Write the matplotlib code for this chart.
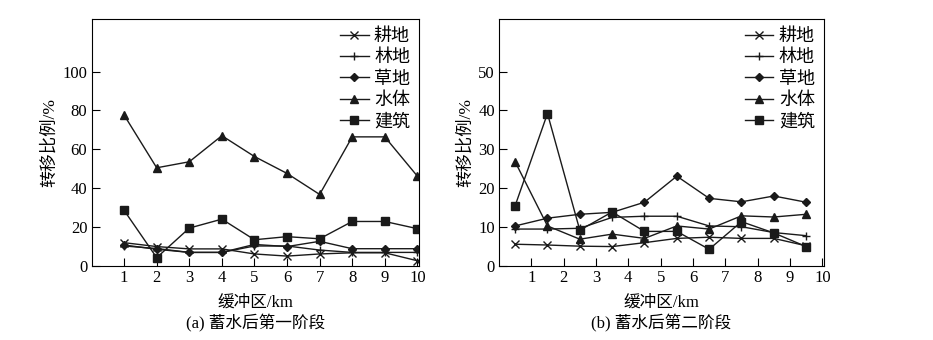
import numpy as np
import matplotlib.pyplot as plt

plt.rcParams['font.family'] = ['Liberation Serif', 'Noto Sans CJK SC']
plt.rcParams['axes.unicode_minus'] = False

# 图例名称
names = ['耕地', '林地', '草地', '水体', '建筑']
markers = ['x', '+', 'D', '^', 's']
msizes = [6, 6, 4.5, 6, 6]

# (a) 蓄水后第一阶段
xa = [1, 2, 3, 4, 5, 6, 7, 8, 9, 10]
gengdi_a = [12.0, 10.0, 8.8, 8.8, 6.2, 5.1, 6.2, 6.8, 6.8, 2.7]
lindi_a = [10.3, 9.0, 7.0, 7.0, 10.3, 10.3, 8.2, 7.0, 7.0, 7.0]
caodi_a = [10.8, 8.6, 7.0, 7.0, 11.1, 10.0, 12.7, 8.9, 8.9, 8.9]
shuiti_a = [77.6, 50.5, 53.6, 67.0, 56.3, 47.6, 36.8, 66.4, 66.4, 46.2]
jianzhu_a = [28.6, 4.3, 19.5, 24.1, 13.5, 15.1, 14.0, 22.9, 22.9, 19.2]

# (b) 蓄水后第二阶段
xb = [0.5, 1.5, 2.5, 3.5, 4.5, 5.5, 6.5, 7.5, 8.5, 9.5]
gengdi_b = [5.6, 5.4, 5.1, 5.0, 6.0, 7.1, 7.4, 7.1, 7.1, 5.2]
lindi_b = [9.5, 9.5, 9.7, 12.5, 12.8, 12.8, 10.3, 10.1, 8.6, 7.8]
caodi_b = [10.3, 12.3, 13.3, 13.8, 16.4, 23.1, 17.4, 16.5, 18.0, 16.4]
shuiti_b = [26.8, 10.3, 6.9, 8.2, 7.1, 10.3, 9.5, 12.9, 12.6, 13.3]
jianzhu_b = [15.5, 39.2, 9.2, 13.9, 8.9, 8.9, 4.3, 11.4, 8.5, 5.0]

fig = plt.figure(figsize=(9.33, 3.4), dpi=100)
ax1 = fig.add_axes([0.0981, 0.2176, 0.351, 0.7265])
ax2 = fig.add_axes([0.5348, 0.2176, 0.3483, 0.7265])

panels = [
    (ax1, xa, [gengdi_a, lindi_a, caodi_a, shuiti_a, jianzhu_a], 127, [0, 20, 40, 60, 80, 100], '(a) 蓄水后第一阶段'),
    (ax2, xb, [gengdi_b, lindi_b, caodi_b, shuiti_b, jianzhu_b], 63.5, [0, 10, 20, 30, 40, 50], '(b) 蓄水后第二阶段'),
]

for ax, x, series, ymax, yticks, caption in panels:
    for y, name, m, ms in zip(series, names, markers, msizes):
        ax.plot(x, y, color='#1a1a1a', linewidth=1.0, marker=m, markersize=ms,
                markeredgewidth=1.0, label=name)
    ax.set_xlim(0, 10.05)
    ax.set_ylim(0, ymax)
    ax.set_xticks(range(1, 11))
    ax.set_yticks(yticks)
    ax.tick_params(direction='in', length=6, labelsize=12, pad=3)
    ax.set_ylabel('转移比例/%', fontsize=12.5, labelpad=3)
    ax.set_xlabel('缓冲区/km\n' + caption, fontsize=12, linespacing=1.3, labelpad=6)
    ax.legend(loc='upper right', frameon=False, fontsize=13, handlelength=1.6,
              handletextpad=0.3, labelspacing=0.24, borderaxespad=0.3,
              borderpad=0.2)

fig.savefig('out.png', dpi=100)
